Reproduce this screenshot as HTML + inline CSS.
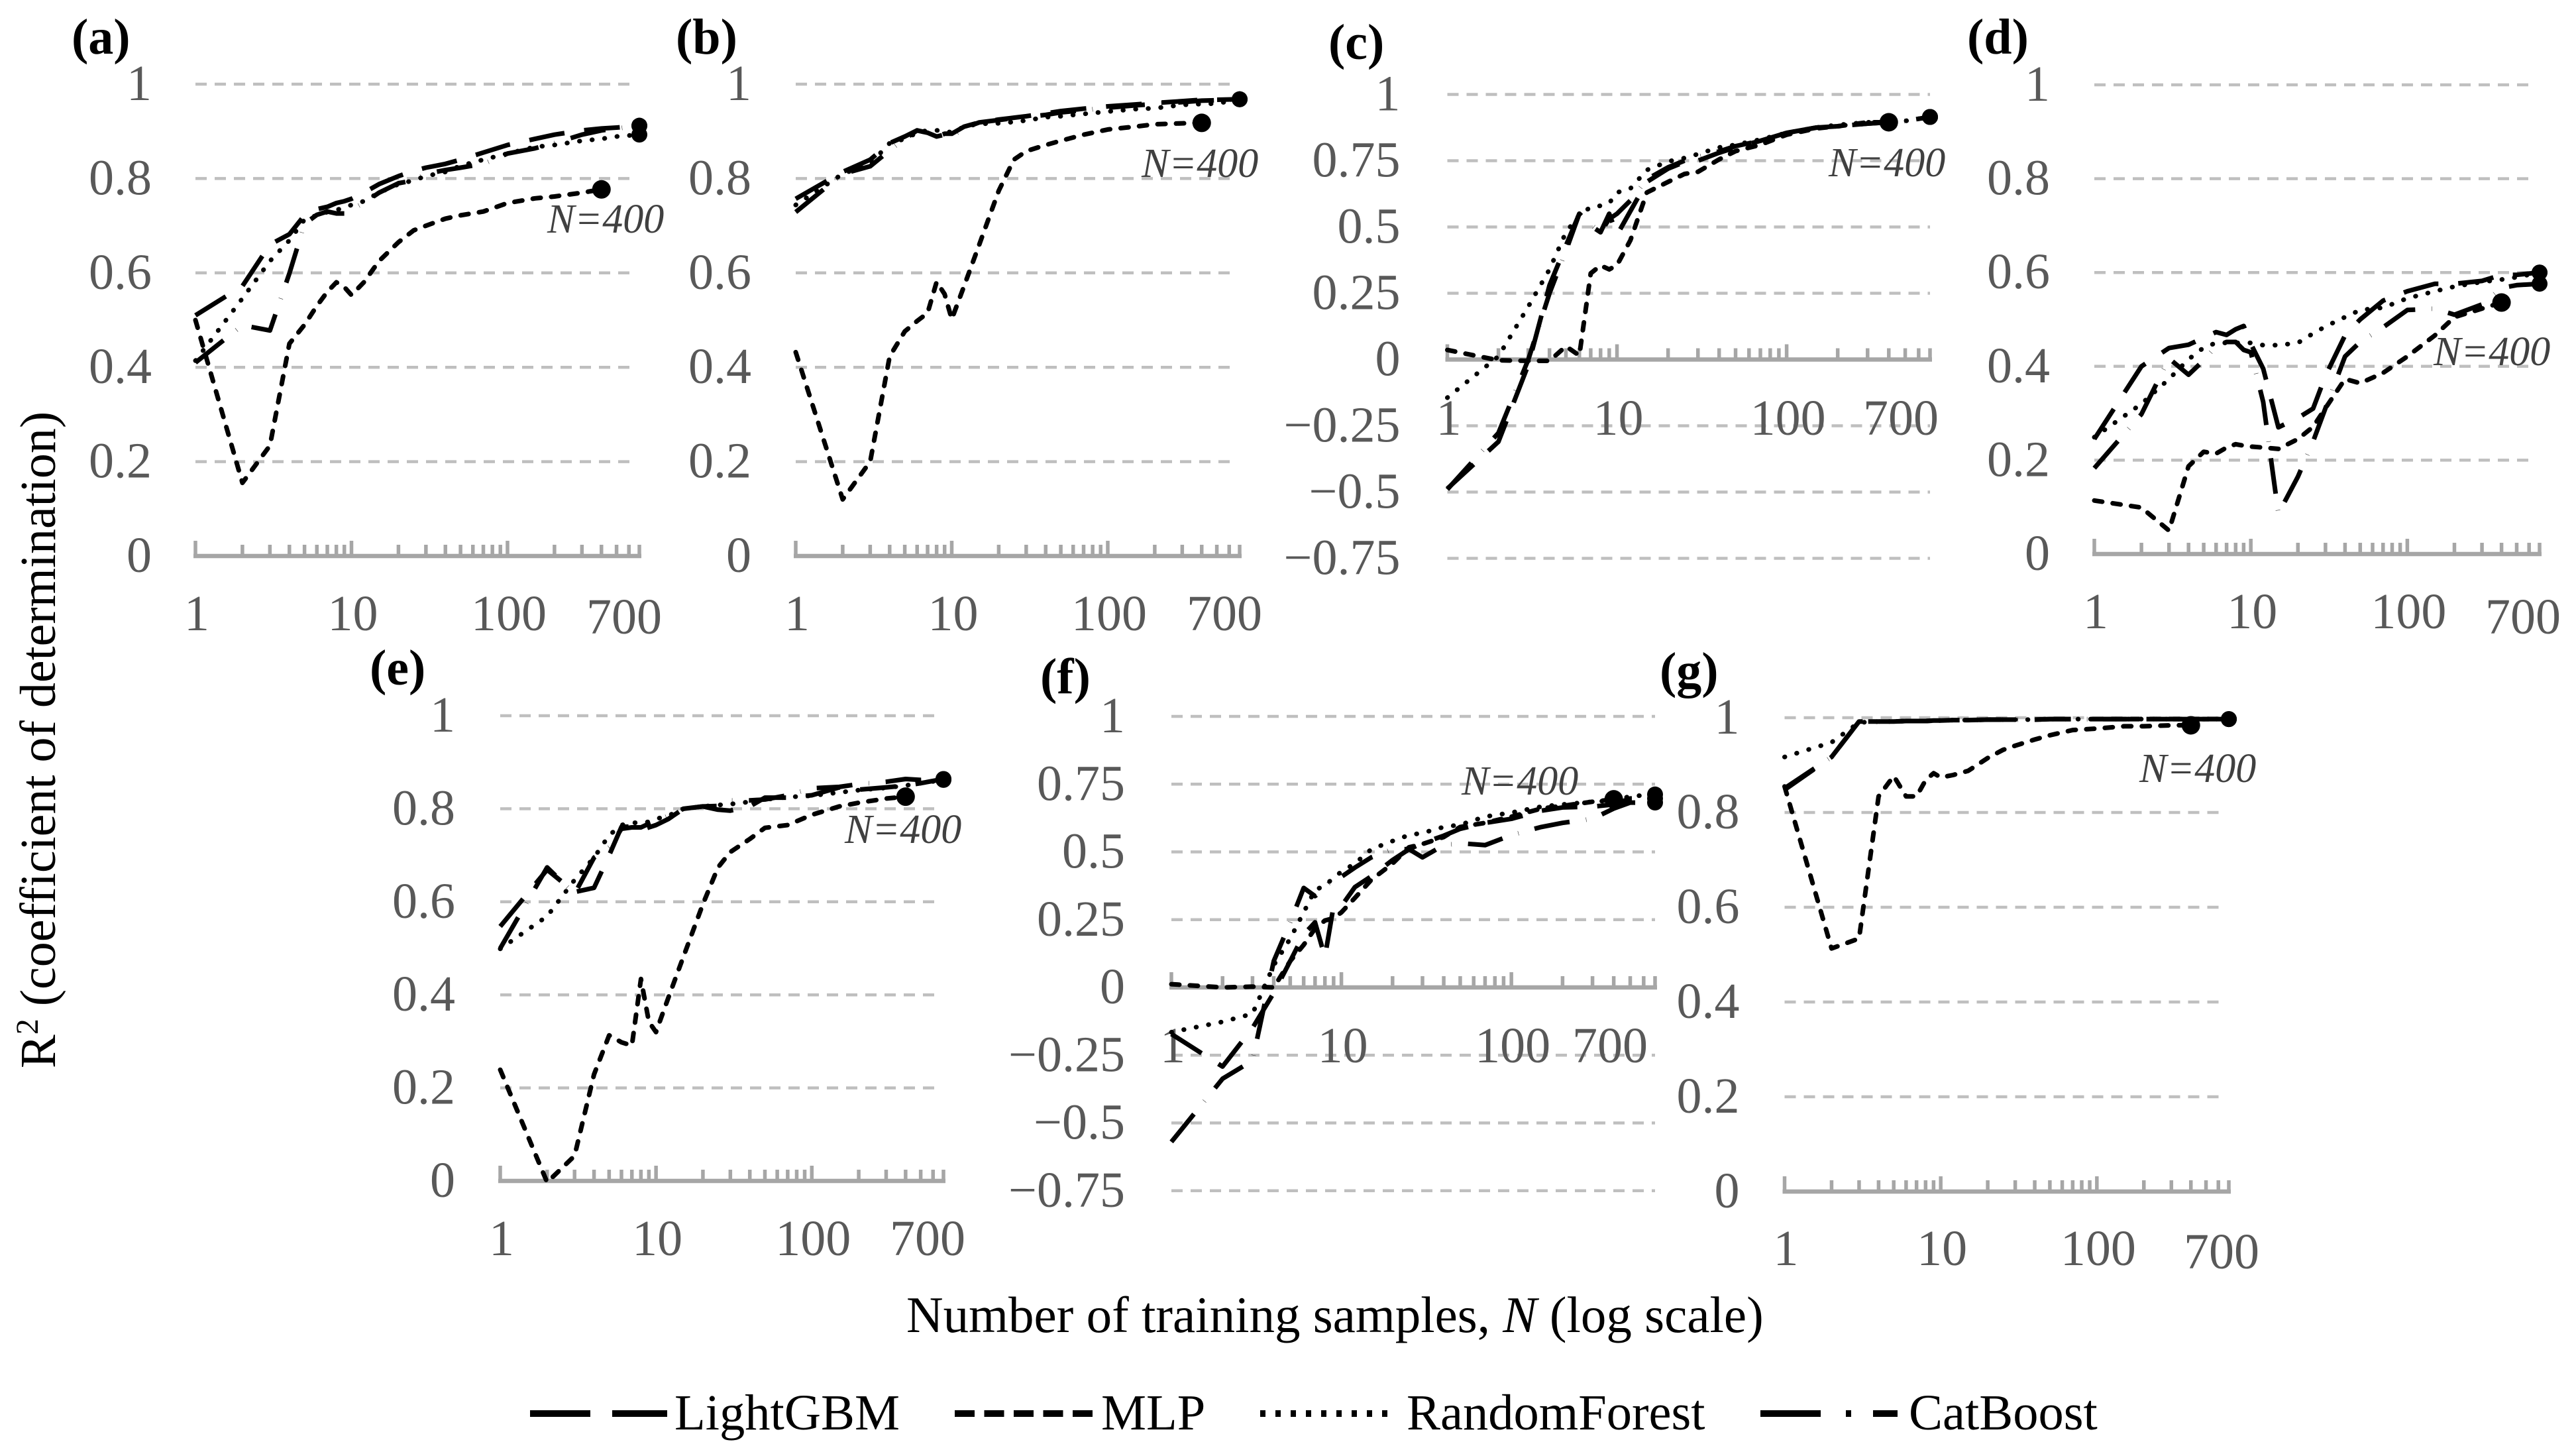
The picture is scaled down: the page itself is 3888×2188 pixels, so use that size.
<!DOCTYPE html>
<html lang="en">
<head>
<meta charset="utf-8">
<title>R² versus number of training samples</title>
<style>
html,body{margin:0;padding:0;background:#fff;}
svg{display:block;font-family:"Liberation Serif",serif;}
</style>
</head>
<body>
<svg id="figure" xmlns="http://www.w3.org/2000/svg" width="3888" height="2188" viewBox="0 0 3888 2188">
<rect x="0" y="0" width="3888" height="2188" fill="#fff"/>
<text transform="translate(83 1612) rotate(-90)" font-size="76" fill="#000">R<tspan font-size="48" dy="-26">2</tspan><tspan dy="26"> (coefficient of determination)</tspan></text>
<text x="1368" y="2010" font-size="77" fill="#000">Number of training samples, <tspan font-style="italic">N</tspan> (log scale)</text>
<g>
<line x1="800" x2="1007" y1="2133" y2="2133" stroke="#000" stroke-width="10" stroke-dasharray="91 33"/>
<text x="1018" y="2157" font-size="76.5">LightGBM</text>
<line x1="1441" x2="1649" y1="2133" y2="2133" stroke="#000" stroke-width="10" stroke-dasharray="30 14.5"/>
<text x="1662" y="2157" font-size="76.5">MLP</text>
<line x1="1902" x2="2101" y1="2133" y2="2133" stroke="#000" stroke-width="10" stroke-dasharray="8 15"/>
<text x="2123" y="2157" font-size="76.5">RandomForest</text>
<line x1="2657" x2="2864" y1="2133" y2="2133" stroke="#000" stroke-width="10" stroke-dasharray="91 38 8 33 91"/>
<text x="2881" y="2157" font-size="76.5">CatBoost</text>
</g>
</svg>
<script>
// Shared axes data
const sampleCounts = [1,2,3,4,5,6,7,8,9,10,12,15,20,25,30,40,50,70,100,150,200,300,400,500,700];
const xTickValues = [1,2,3,4,5,6,7,8,9,10,20,30,40,50,60,70,80,90,100,200,300,400,500,600,700];
const xMajorTicks = [1,10,100];
const xTickLabels = [1,10,100,700];
const yTicksUnit = [1,0.8,0.6,0.4,0.2,0];
const yTicksUnitLabels = ['1','0.8','0.6','0.4','0.2','0'];
const yTicksWide = [1,0.75,0.5,0.25,0,-0.25,-0.5,-0.75];
const yTicksWideLabels = ['1','0.75','0.5','0.25','0','\u22120.25','\u22120.5','\u22120.75'];

// Panel (a)
const aLightGBM = [.51,.572,.66,.682,.722,.735,.74,.748,.752,.757,.77,.788,.805,.816,.823,.831,.84,.855,.871,.884,.893,.902,.906,.908,.912];
const aMLP = [.50,.155,.234,.45,.49,.53,.56,.58,.57,.553,.58,.625,.665,.69,.70,.715,.722,.73,.748,.758,.762,.77,.777];
const aRandomForest = [.414,.546,.625,.669,.713,.722,.729,.733,.739,.744,.752,.77,.788,.796,.805,.814,.827,.84,.853,.867,.871,.88,.884,.889,.893];
const aCatBoost = [.41,.489,.478,.599,.704,.723,.73,.726,.726,.735,.748,.77,.79,.796,.81,.818,.823,.831,.853,.864,.875,.893,.902,.906,.912];
// Panel (b)
const bLightGBM = [.757,.814,.84,.875,.889,.902,.897,.889,.895,.895,.91,.919,.925,.929,.932,.938,.943,.948,.953,.957,.96,.964,.967,.967,.968];
const bMLP = [.432,.12,.2,.423,.476,.498,.515,.581,.555,.502,.572,.66,.774,.84,.858,.871,.88,.893,.904,.91,.915,.917,.918];
const bRandomForest = [.744,.81,.831,.875,.884,.897,.902,.902,.902,.897,.91,.916,.917,.92,.923,.93,.932,.937,.942,.947,.949,.956,.958,.959,.968];
const bCatBoost = [.729,.81,.826,.86,.884,.902,.897,.889,.893,.889,.907,.919,.924,.928,.93,.935,.94,.945,.95,.955,.958,.962,.965,.966,.968];
// Panel (c)
const cLightGBM = [-.487,-.31,-.02,.28,.43,.55,.505,.48,.55,.47,.56,.67,.72,.745,.75,.78,.80,.825,.855,.875,.88,.89,.895,.90,.915];
const cMLP = [.036,-.003,-.005,-.005,.05,.015,.325,.355,.34,.356,.45,.63,.67,.70,.708,.755,.786,.81,.848,.872,.88,.895,.895];
const cRandomForest = [-.144,.012,.2,.34,.48,.545,.575,.58,.59,.63,.645,.715,.747,.76,.775,.80,.81,.83,.855,.875,.885,.895,.895,.90,.915];
const cCatBoost = [-.49,-.277,0,.25,.41,.55,.51,.48,.53,.55,.60,.68,.725,.75,.765,.785,.805,.825,.855,.875,.88,.89,.895,.90,.915];
// Panel (d)
const dLightGBM = [.245,.40,.439,.446,.461,.473,.467,.479,.486,.448,.395,.27,.29,.31,.38,.466,.50,.54,.56,.576,.576,.582,.595,.595,.60];
const dMLP = [.114,.099,.05,.187,.218,.214,.227,.234,.231,.229,.227,.224,.245,.271,.311,.373,.364,.386,.421,.466,.505,.523,.536];
const dRandomForest = [.249,.32,.373,.415,.44,.45,.45,.45,.45,.45,.445,.445,.45,.47,.485,.505,.52,.525,.545,.56,.57,.58,.585,.59,.60];
const dCatBoost = [.183,.298,.417,.382,.413,.443,.452,.452,.435,.43,.324,.086,.165,.24,.311,.421,.452,.483,.52,.523,.51,.532,.567,.573,.576];
// Panel (e)
const eLightGBM = [.547,.669,.621,.63,.70,.761,.762,.754,.76,.765,.778,.80,.805,.798,.796,.805,.824,.824,.829,.846,.841,.846,.85,.855,.864];
const eMLP = [.239,-.003,.054,.229,.313,.298,.291,.434,.342,.32,.394,.482,.595,.674,.707,.735,.759,.765,.787,.805,.813,.822,.826];
const eRandomForest = [.499,.569,.647,.695,.743,.765,.77,.77,.772,.778,.785,.80,.805,.808,.81,.815,.82,.825,.828,.835,.84,.845,.85,.855,.862];
const eCatBoost = [.50,.674,.617,.695,.717,.757,.76,.76,.768,.774,.785,.80,.805,.806,.818,.818,.82,.829,.844,.847,.853,.858,.864,.862,.864];
// Panel (f)
const fLightGBM = [-.172,-.292,-.15,-.02,.097,.195,.24,.112,.3,.3,.37,.41,.47,.51,.532,.56,.585,.607,.622,.652,.664,.667,.675,.697,.697];
const fMLP = [.012,0,.003,0,.097,.157,.217,.247,.255,.277,.33,.397,.457,.517,.529,.555,.592,.607,.63,.66,.67,.685,.694];
const fRandomForest = [-.165,-.127,-.097,.082,.18,.277,.36,.375,.405,.427,.457,.51,.54,.562,.57,.592,.60,.63,.645,.667,.675,.685,.69,.705,.712];
const fCatBoost = [-.57,-.337,-.27,.097,.24,.367,.337,.367,.405,.408,.442,.48,.51,.51,.48,.525,.532,.525,.562,.592,.607,.622,.66,.682,.682];
// Panel (g)
const gLightGBM = [.848,.917,.992,.992,.992,.993,.993,.993,.994,.994,.995,.995,.996,.996,.996,.996,.997,.997,.997,.997,.997,.997,.997,.997,.997];
const gMLP = [.855,.513,.534,.834,.877,.834,.834,.868,.883,.874,.879,.888,.915,.932,.941,.954,.963,.974,.977,.982,.982,.984,.984];
const gRandomForest = [.917,.948,.99,.992,.992,.993,.993,.993,.994,.994,.995,.995,.996,.996,.996,.996,.997,.997,.997,.997,.997,.997,.997,.997,.997];
const gCatBoost = [.851,.917,.992,.992,.992,.993,.993,.993,.994,.994,.995,.995,.996,.996,.996,.996,.997,.997,.997,.997,.997,.997,.997,.997,.997];

const panelLayouts = [
  {id:'a',left:295,right:965,gridEnd:955,top:127,zero:839,unit:712,wide:false,yLabelGap:66,xBase:951,base700:956,dx700:-23,tagX:108,tagY:81,nX:826,nY:351,series:[aLightGBM,aMLP,aRandomForest,aCatBoost]},
  {id:'b',left:1201,right:1871,gridEnd:1862,top:127,zero:839,unit:712,wide:false,yLabelGap:67,xBase:951,base700:951,dx700:-23,tagX:1020,tagY:81,nX:1723,nY:267,series:[bLightGBM,bMLP,bRandomForest,bCatBoost]},
  {id:'c',left:2184.5,right:2913,gridEnd:2913,top:142.5,zero:542.5,unit:400,wide:true,yLabelGap:71,xBase:656,base700:656,dx700:-44,tagX:2005,tagY:89,nX:2760,nY:266,series:[cLightGBM,cMLP,cRandomForest,cCatBoost]},
  {id:'d',left:3161,right:3833,gridEnd:3821,top:128,zero:836,unit:708,wide:false,yLabelGap:67,xBase:948,base700:956,dx700:-25,tagX:2969,tagY:81,nX:3673,nY:551,series:[dLightGBM,dMLP,dRandomForest,dCatBoost]},
  {id:'e',left:755,right:1424,gridEnd:1414,top:1080,zero:1782,unit:702,wide:false,yLabelGap:68,xBase:1894,base700:1894,dx700:-24,tagX:558,tagY:1033,nX:1275,nY:1272,series:[eLightGBM,eMLP,eRandomForest,eCatBoost]},
  {id:'f',left:1768,right:2498,gridEnd:2498,top:1081,zero:1490,unit:409,wide:true,yLabelGap:70,xBase:1603,base700:1603,dx700:-68,tagX:1570,tagY:1046,nX:2206,nY:1199,series:[fLightGBM,fMLP,fRandomForest,fCatBoost]},
  {id:'g',left:2693.5,right:3364,gridEnd:3352,top:1083,zero:1798,unit:715,wide:false,yLabelGap:68,xBase:1909,base700:1914,dx700:-11,tagX:2505,tagY:1037,nX:3229,nY:1180,series:[gLightGBM,gMLP,gRandomForest,gCatBoost]}
];
const seriesNames = ['lightgbm','mlp','randomforest','catboost'];
const seriesDashes = ['54 30','12 16','0.5 18.5','54 25 0.5 25'];
const seriesCaps = ['butt','round','round','butt'];

const svgNS = 'http://www.w3.org/2000/svg';
const root = document.getElementById('figure');
function make(parent, tag, attrs, text) {
  const el = document.createElementNS(svgNS, tag);
  Object.keys(attrs).forEach(function (k) { el.setAttribute(k, attrs[k]); });
  if (text !== undefined) el.textContent = text;
  parent.appendChild(el);
  return el;
}

panelLayouts.forEach(function (p) {
  const xScale = function (n) { return p.left + (p.right - p.left) * Math.log10(n) / Math.log10(700); };
  const yScale = function (v) { return p.zero - v * p.unit; };

  const group = make(root, 'g', {});
  
  

  const tag = make(group, 'text', {x:p.tagX, y:p.tagY, 'font-size':76, 'font-weight':'bold', fill:'#000'}, '(' + p.id + ')');
  
  

  const yVals = p.wide ? yTicksWide : yTicksUnit;
  const yLabs = p.wide ? yTicksWideLabels : yTicksUnitLabels;
  yVals.forEach(function (v, i) {
    if (v !== 0) {
      const grid = make(group, 'line', {x1:p.left, x2:p.gridEnd, y1:yScale(v), y2:yScale(v), stroke:'#bfbfbf', 'stroke-width':4.5, 'stroke-dasharray':'17 12'});
      
      
    }
    const lab = make(group, 'text', {x:p.left - p.yLabelGap, y:yScale(v) + 24, 'font-size':76, fill:'#595959', 'text-anchor':'end'}, yLabs[i]);
    
    
  });

  const axis = make(group, 'line', {x1:p.left - 3, x2:p.right + 3, y1:p.zero, y2:p.zero, stroke:'#a6a6a6', 'stroke-width':6.5});
  
  

  xTickValues.forEach(function (n) {
    const len = xMajorTicks.indexOf(n) >= 0 ? 23 : 17;
    const tick = make(group, 'line', {x1:xScale(n), x2:xScale(n), y1:p.zero, y2:p.zero - len, stroke:'#a6a6a6', 'stroke-width':5.5});
    
    
  });

  xTickLabels.forEach(function (n) {
    const is700 = n === 700;
    const lab = make(group, 'text', {x:xScale(n) + (is700 ? p.dx700 : 2), y:is700 ? p.base700 : p.xBase, 'font-size':76, fill:'#595959', 'text-anchor':'middle'}, String(n));
    
    
  });

  p.series.forEach(function (values, s) {
    const pts = values.map(function (v, i) { return xScale(sampleCounts[i]).toFixed(1) + ',' + yScale(v).toFixed(1); }).join(' ');
    const line = make(group, 'polyline', {points:pts, fill:'none', stroke:'#000', 'stroke-width':7, 'stroke-dasharray':seriesDashes[s], 'stroke-linecap':seriesCaps[s], 'stroke-linejoin':'round'});
    
    
    const last = values.length - 1;
    const dot = make(group, 'circle', {cx:xScale(sampleCounts[last]), cy:yScale(values[last]), r:s === 1 ? 14 : 12, fill:'#000'});
    
    
  });

  const nLabel = make(group, 'text', {x:p.nX, y:p.nY, 'font-size':62, 'font-style':'italic', fill:'#404040'}, 'N=400');
  
  
});
</script>
</body>
</html>
